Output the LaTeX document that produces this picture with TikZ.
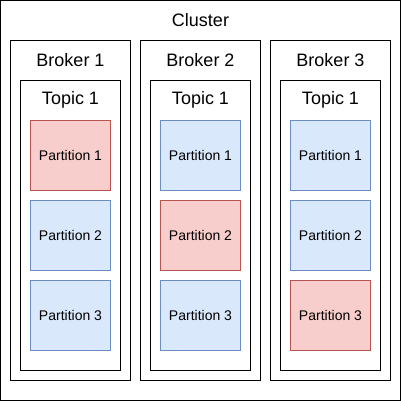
\documentclass[tikz,border=0pt]{standalone}
\usepackage{fontspec}
\setmainfont{Liberation Sans}
\definecolor{redfill}{HTML}{F8CECC}
\definecolor{redline}{HTML}{B85450}
\definecolor{bluefill}{HTML}{DAE8FC}
\definecolor{blueline}{HTML}{6C8EBF}
\begin{document}
\begin{tikzpicture}[x=1pt,y=-1pt,
  box/.style={draw=black,line width=1pt,fill=white},
  redpart/.style={draw=redline,fill=redfill,line width=1pt},
  bluepart/.style={draw=blueline,fill=bluefill,line width=1pt},
  big/.style={font=\fontsize{18}{20}\selectfont},
  small/.style={font=\fontsize{14}{16}\selectfont}]
\useasboundingbox (0,0) rectangle (402,401);
\draw[box] (0.5,0.5) rectangle (400.5,400.5);
\node[big] (cluster) at (200.5,20) {Cluster};
\foreach \i/\x in {1/10.5,2/140.5,3/270.5}{
  \draw[box] (\x,40.5) rectangle ++(120,340);
  \node[big] (broker\i) at (\x+60,60) {Broker \i};
  \draw[box] (\x+10,80.5) rectangle ++(100,290);
  \node[big] (topic\i) at (\x+60,100) {Topic 1};
  \foreach \j/\y in {1/120.5,2/200.5,3/280.5}{
    \ifnum\i=\j
      \draw[redpart] (\x+20,\y) rectangle ++(80,70);
    \else
      \draw[bluepart] (\x+20,\y) rectangle ++(80,70);
    \fi
    \node[small] (p\i\j) at (\x+60,\y+35) {Partition \j};
  }
}
\end{tikzpicture}
\end{document}
